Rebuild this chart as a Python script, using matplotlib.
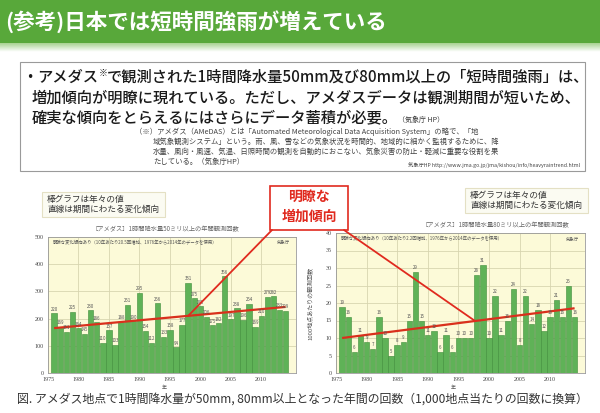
import matplotlib
matplotlib.use('Agg')
import matplotlib.pyplot as plt
from matplotlib.patches import Rectangle, ConnectionPatch
import numpy as np

plt.rcParams['font.family'] = ['Noto Sans CJK JP', 'DejaVu Sans']

# ---------------- data ----------------
years = list(range(1976, 2015))
count_50mm = [220, 169, 151, 225, 164, 145, 230, 186, 110, 157,
              103, 188, 251, 190, 295, 154, 112, 256, 133, 158,
              94, 177, 331, 275, 245, 206, 175, 182, 356, 197,
              238, 196, 254, 169, 210, 279, 282, 233, 229]
count_80mm = [19, 16, 6, 11, 9, 7, 16, 10, 5, 8,
              9, 15, 29, 15, 11, 12, 6, 11, 6, 10,
              10, 10, 28, 31, 10, 22, 11, 15, 24, 8,
              22, 14, 18, 12, 16, 21, 16, 25, 16]
trend_years = [1976, 2014]
trend_50mm = [165, 243]
trend_80mm = [10.0, 18.5]
callout_50mm = (1998.0, 210)
callout_80mm = (1997.7, 14.9)
xticks = [1975, 1980, 1985, 1990, 1995, 2000, 2005, 2010]
yticks_50mm = [0, 100, 200, 300, 400, 500]
yticks_80mm = [0, 5, 10, 15, 20, 25, 30, 35, 40]

W, H = 600, 413
fig = plt.figure(figsize=(6, 4.13), dpi=100)
fig.patch.set_facecolor('white')


def fx(x):
    return x / W


def fy(y):
    return 1 - y / H


def ax_px(x0, y0, x1, y1, **kw):
    return fig.add_axes([fx(x0), fy(y1), (x1 - x0) / W, (y1 - y0) / H], **kw)


# ---------------- header ----------------
fig.add_artist(Rectangle((0, fy(43)), 1, 43 / H, transform=fig.transFigure,
                         facecolor='#58a83a', edgecolor='none', zorder=0))
grad = ax_px(0, 43, 600, 52)
grad.imshow(np.linspace(0, 1, 20).reshape(-1, 1) * np.ones((1, 2)),
            cmap=matplotlib.colors.LinearSegmentedColormap.from_list('g', ['#a9d392', '#ffffff']),
            aspect='auto', extent=[0, 1, 0, 1], origin='upper')
grad.axis('off')
fig.text(fx(5), fy(22), '(参考)日本では短時間強雨が増えている', color='white',
         fontsize=15.5, fontweight='bold', va='center', ha='left')

# ---------------- text box ----------------
fig.add_artist(Rectangle((fx(20), fy(171)), (585 - 20) / W, (171 - 62) / H,
                         transform=fig.transFigure, facecolor='white',
                         edgecolor='#9a9a9a', lw=0.8))

fig.canvas.draw()
rend = fig.canvas.get_renderer()


def chain(x, y, pieces):
    """Place text pieces one after another starting at pixel x."""
    for txt, kw, dy in pieces:
        t = fig.text(fx(x), fy(y + dy), txt, va='center', ha='left', **kw)
        bb = t.get_window_extent(renderer=rend)
        x += bb.width
    return x


main_kw = dict(fontsize=11, color='#1a1a1a', fontweight='medium')
chain(22, 77, [('・', main_kw, 0),
               ('アメダス', main_kw, 0),
               ('※', dict(fontsize=6.5, color='#1a1a1a'), -4),
               ('で観測された1時間降水量50mm及び80mm以上の「短時間強雨」は、', main_kw, 0)])
fig.text(fx(32), fy(98), '増加傾向が明瞭に現れている。ただし、アメダスデータは観測期間が短いため、',
         va='center', ha='left', **main_kw)
chain(32, 118, [('確実な傾向をとらえるにはさらにデータ蓄積が必要。', main_kw, 0),
                ('（気象庁 HP）', dict(fontsize=5, color='#333333'), 2)])

foot_kw = dict(fontsize=5.3, color='#444444')
fig.text(fx(135), fy(132), '（※）アメダス（AMeDAS）とは「Automated Meteorological Data Acquisition System」の略で、「地',
         va='center', ha='left', **foot_kw)
fig.text(fx(153), fy(142), '域気象観測システム」という。雨、風、雪などの気象状況を時間的、地域的に細かく監視するために、降',
         va='center', ha='left', **foot_kw)
fig.text(fx(153), fy(152), '水量、風向・風速、気温、日照時間の観測を自動的におこない、気象災害の防止・軽減に重要な役割を果',
         va='center', ha='left', **foot_kw)
fig.text(fx(153), fy(162), 'たしている。（気象庁HP）', va='center', ha='left', **foot_kw)
fig.text(fx(580), fy(165), '気象庁HP http://www.jma.go.jp/jma/kishou/info/heavyraintrend.html',
         va='center', ha='right', fontsize=3.8, color='#444444')

# ---------------- charts ----------------
bar_face = '#5fb257'
bar_edge = '#3e8d3a'
trend_col = '#d9301c'
plot_bg = '#fcfad8'
tick_font = dict(family=['Liberation Serif', 'DejaVu Serif'], size=4.3, color='#444444')


def make_chart(ax, values, trend, ylim, yticks, note):
    ax.set_facecolor(plot_bg)
    ax.bar(years, values, width=0.88, color=bar_face, edgecolor=bar_edge, lw=0.4, zorder=2)
    ax.plot(trend_years, trend, color=trend_col, lw=1.6, zorder=4, solid_capstyle='butt')
    ax.set_xlim(1975, 2015.7)
    ax.set_ylim(*ylim)
    ax.set_xticks(xticks)
    ax.set_yticks(yticks)
    ax.set_xticklabels([str(v) for v in xticks], fontdict=tick_font)
    ax.set_yticklabels([str(v) for v in yticks], fontdict=tick_font)
    ax.tick_params(length=0, pad=3)
    ax.grid(True, color='#d8d5b0', lw=0.6, zorder=0)
    ax.set_axisbelow(True)
    for s in ax.spines.values():
        s.set_color('#9a9a9a')
        s.set_linewidth(0.6)
    off = (ylim[1] - ylim[0]) * 0.012
    for xv, v in zip(years, values):
        ax.text(xv, v + off, str(v), ha='center', va='bottom', fontsize=3.2,
                color='#555555', zorder=5)
    ax.text(0.02, 0.975, note, transform=ax.transAxes, ha='left', va='top',
            fontsize=3.2, color='#555555')
    ax.text(0.975, 0.975, '気象庁', transform=ax.transAxes, ha='right', va='top',
            fontsize=3.2, color='#555555')
    ax.text(0.47, -0.085, '年', transform=ax.transAxes, ha='center', va='top',
            fontsize=3.6, color='#555555')


axL = ax_px(48, 237, 296, 373)
make_chart(axL, count_50mm, trend_50mm, (0, 500), yticks_50mm,
           '明瞭な変化傾向あり（10年あたり20.5回増加、1976年から2014年のデータを使用）')
axR = ax_px(336, 233, 585, 373)
make_chart(axR, count_80mm, trend_80mm, (0, 40), yticks_80mm,
           '明瞭な変化傾向あり（10年あたり2.2回増加、1976年から2014年のデータを使用）')
axR.set_ylabel('1000地点あたりの観測回数', fontsize=4.3, color='#555555', labelpad=9)

fig.text(fx(165), fy(229), '［アメダス］1時間降水量50ミリ以上の年間観測回数', ha='center', va='center',
         fontsize=4.5, color='#666666')
fig.text(fx(495), fy(225), '［アメダス］1時間降水量80ミリ以上の年間観測回数', ha='center', va='center',
         fontsize=4.5, color='#666666')

# legend-like boxes
for (x0, y0, x1, y1) in [(42, 192, 165, 217), (465, 188, 588, 213)]:
    fig.add_artist(Rectangle((fx(x0), fy(y1)), (x1 - x0) / W, (y1 - y0) / H,
                             transform=fig.transFigure, facecolor='#fbfbf2',
                             edgecolor='#e4e0c4', lw=0.8))
    fig.text(fx(x0 + 5), fy(y0 + 7.5), '棒グラフは年々の値', ha='left', va='center',
             fontsize=6.2, color='#333333')
    fig.text(fx(x0 + 5), fy(y0 + 17.5), '直線は期間にわたる変化傾向', ha='left', va='center',
             fontsize=6.2, color='#333333')

# callout
fig.add_artist(Rectangle((fx(270), fy(230)), 78 / W, 44 / H, transform=fig.transFigure,
                         facecolor='white', edgecolor='#e02a1f', lw=1.2, zorder=6))
fig.text(fx(309), fy(197), '明瞭な', ha='center', va='center', fontsize=10,
         color='#e02a1f', fontweight='bold', zorder=7)
fig.text(fx(309), fy(217), '増加傾向', ha='center', va='center', fontsize=10,
         color='#e02a1f', fontweight='bold', zorder=7)
c1 = ConnectionPatch(xyA=(fx(272), fy(230)), coordsA='figure fraction',
                     xyB=callout_50mm, coordsB='data', axesB=axL,
                     color='#e02a1f', lw=1.3, zorder=8)
fig.add_artist(c1)
c2 = ConnectionPatch(xyA=(fx(344), fy(230)), coordsA='figure fraction',
                     xyB=callout_80mm, coordsB='data', axesB=axR,
                     color='#e02a1f', lw=1.3, zorder=8)
fig.add_artist(c2)

# caption
fig.text(fx(17), fy(399), '図. アメダス地点で1時間降水量が50mm, 80mm以上となった年間の回数（1,000地点当たりの回数に換算）',
         ha='left', va='center', fontsize=8.6, color='#333333')

fig.savefig('out.png', dpi=100)
